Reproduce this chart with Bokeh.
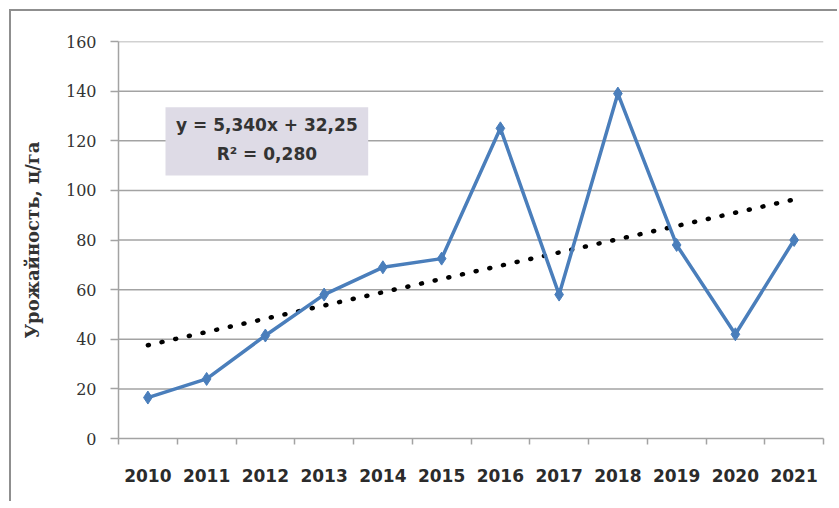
from bokeh.plotting import figure
from bokeh.models import (Range1d, LinearAxis, FixedTicker, BoxAnnotation, Label,
                          ColumnDataSource)
from bokeh.embed import file_html
from bokeh.resources import INLINE

years = ["2010", "2011", "2012", "2013", "2014", "2015",
         "2016", "2017", "2018", "2019", "2020", "2021"]
yields = [16.5, 24, 41.5, 58, 69, 72.5, 125, 58, 139, 78, 42, 80]
trend_slope = 5.340
trend_intercept = 32.25
eq_line1 = "y = 5,340x + 32,25"
eq_line2 = "R² = 0,280"
y_ticks = [0, 20, 40, 60, 80, 100, 120, 140, 160]
y_title = "Урожайность, ц/га"

n = len(years)
xc = [i + 0.5 for i in range(n)]
trend = [trend_slope * (i + 1) + trend_intercept for i in range(n)]

GRID = "#a3a3a3"
BLUE = "#4a7ebb"

p = figure(width=828, height=492, output_backend="svg", toolbar_location=None,
           x_range=Range1d(0, n), y_range=Range1d(0, 160),
           x_axis_type=None, y_axis_type=None,
           min_border_left=107, min_border_right=16, min_border_top=30, min_border_bottom=65)
p.outline_line_color = None
p.background_fill_color = "white"
p.border_fill_color = "white"
p.styles = {"border-top": "2px solid #8f8f8f", "border-left": "2px solid #8f8f8f",
            "margin-left": "9px", "margin-top": "9px"}

# Y axis
yax = LinearAxis(ticker=FixedTicker(ticks=y_ticks))
yax.axis_line_color = GRID
yax.axis_line_width = 1.5
yax.major_tick_line_color = GRID
yax.major_tick_line_width = 1.5
yax.major_tick_out = 8
yax.major_tick_in = 0
yax.minor_tick_line_color = None
yax.major_label_text_font = "DejaVu Serif"
yax.major_label_text_font_size = "16px"
yax.major_label_text_color = "#333333"
yax.major_label_standoff = 14
yax.axis_label = y_title
yax.axis_label_text_font = "DejaVu Serif"
yax.axis_label_text_font_style = "bold"
yax.axis_label_text_font_size = "18px"
yax.axis_label_text_color = "#333333"
yax.axis_label_standoff = 20
p.add_layout(yax, "left")

# X axis: tick marks at category boundaries
xax = LinearAxis(ticker=FixedTicker(ticks=list(range(n + 1))))
xax.axis_line_color = GRID
xax.axis_line_width = 1.5
xax.major_tick_line_color = GRID
xax.major_tick_line_width = 1.5
xax.major_tick_out = 6
xax.major_tick_in = 0
xax.minor_tick_line_color = None
xax.major_label_text_font_size = "1px"
xax.major_label_text_color = None
xax.major_label_standoff = 0
p.add_layout(xax, "below")

# X axis: year labels at category centres
xlab = LinearAxis(ticker=FixedTicker(ticks=xc))
xlab.major_label_overrides = {c: y for c, y in zip(xc, years)}
xlab.axis_line_color = None
xlab.major_tick_line_color = None
xlab.minor_tick_line_color = None
xlab.major_label_text_font = "DejaVu Sans"
xlab.major_label_text_font_style = "bold"
xlab.major_label_text_font_size = "17px"
xlab.major_label_text_color = "#2b2b2b"
xlab.major_label_standoff = 18
p.add_layout(xlab, "below")

# horizontal grid lines
for t in y_ticks[1:]:
    p.segment(x0=0, x1=n, y0=t, y1=t, line_color=GRID, line_width=1.5)

src = ColumnDataSource(dict(x=xc, y=yields, t=trend))

p.line("x", "t", source=src, line_color="black", line_width=4.5,
       line_dash="1 13", line_cap="round")
p.line("x", "y", source=src, line_color=BLUE, line_width=3.5)
p.scatter("x", "y", source=src, marker="diamond", size=13,
          fill_color=BLUE, line_color=BLUE)

# equation box
box = BoxAnnotation(left=0.8, right=4.25, top=133.5, bottom=106,
                    fill_color="#dedbe6", fill_alpha=1, line_color=None, level="overlay")
p.add_layout(box)
p.add_layout(Label(x=2.525, y=126.5, text=eq_line1, text_align="center",
                   text_baseline="middle", text_font="DejaVu Sans",
                   text_font_style="bold", text_font_size="17px",
                   text_color="#333333", level="overlay"))
p.add_layout(Label(x=2.525, y=114.5, text=eq_line2, text_align="center",
                   text_baseline="middle", text_font="DejaVu Sans",
                   text_font_style="bold", text_font_size="17px",
                   text_color="#333333", level="overlay"))

open("out.html", "w").write(file_html(p, INLINE))
